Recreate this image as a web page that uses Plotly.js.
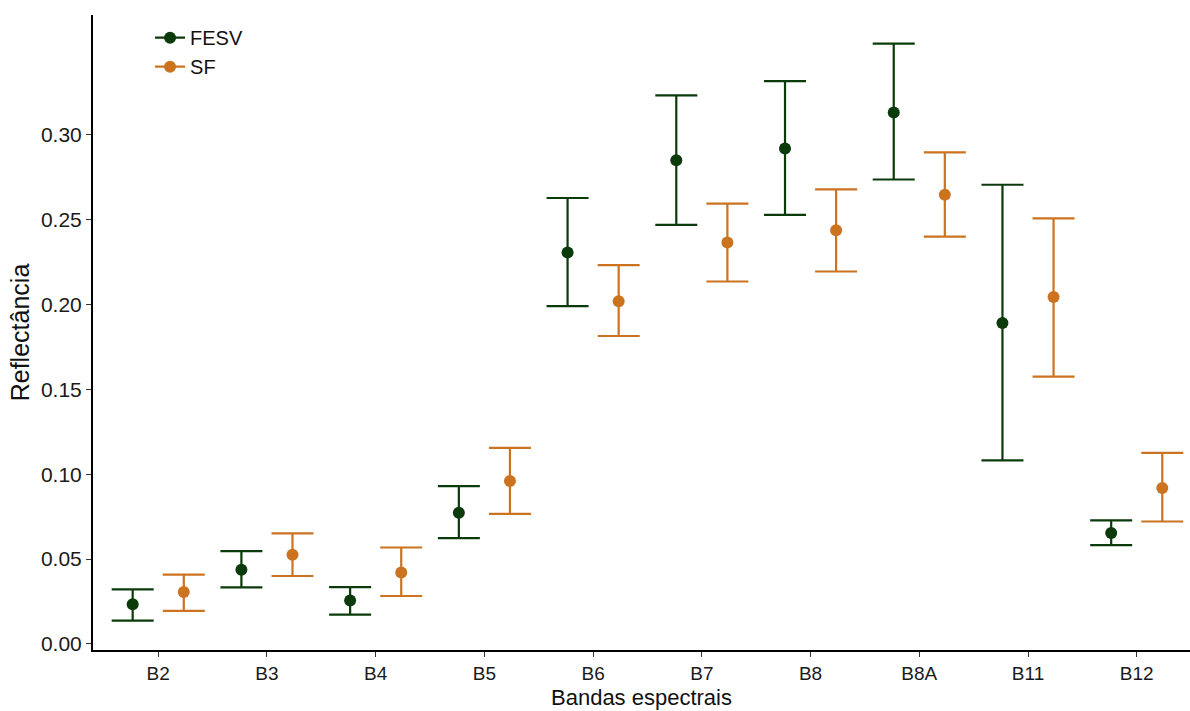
<!DOCTYPE html>
<html>
<head>
<meta charset="utf-8">
<script src="https://cdn.plot.ly/plotly-3.0.1.min.js"></script>
<style>html,body{margin:0;padding:0;background:#fff;}#chart{width:1190px;height:711px;}</style>
</head>
<body>
<div id="chart"></div>
<script>
// Data
const bands = ["B2","B3","B4","B5","B6","B7","B8","B8A","B11","B12"];

const fesvMean  = [0.0233,0.0437,0.0255,0.0772,0.2306,0.2849,0.2919,0.3131,0.1890,0.0653];
const fesvUpper = [0.0321,0.0547,0.0335,0.0929,0.2627,0.3231,0.3315,0.3536,0.2705,0.0728];
const fesvLower = [0.0137,0.0333,0.0172,0.0623,0.1990,0.2468,0.2527,0.2736,0.1081,0.0582];

const sfMean  = [0.0306,0.0525,0.0421,0.0959,0.2019,0.2365,0.2437,0.2646,0.2044,0.0919];
const sfUpper = [0.0408,0.0651,0.0568,0.1155,0.2231,0.2594,0.2678,0.2896,0.2507,0.1125];
const sfLower = [0.0194,0.0400,0.0282,0.0766,0.1814,0.2135,0.2194,0.2399,0.1575,0.0721];

const yTicks = [0.00,0.05,0.10,0.15,0.20,0.25,0.30];

const colFESV = "#0b3a0b";
const colSF = "#cc7320";
const dodge = 0.235; // half of position_dodge width, in category units

const idx = bands.map((b,i)=>i);
function diff(a,b){return a.map((v,i)=>v-b[i]);}

function series(name, mean, upper, lower, color, shift){
  return {
    type:"scatter", mode:"markers", name:name, x:idx.map(i=>i+shift), y:mean,
    showlegend:false,
    marker:{color:color, size:12},
    error_y:{type:"data", symmetric:false, array:diff(upper,mean), arrayminus:diff(mean,lower),
             color:color, thickness:2.2, width:21}
  };
}
function legendItem(name,color){
  return {type:"scatter", mode:"lines+markers", name:name, x:[null], y:[null],
          marker:{color:color,size:12}, line:{color:color,width:2.2}, showlegend:true};
}

const traces = [
  series("FESV", fesvMean, fesvUpper, fesvLower, colFESV, -dodge),
  series("SF", sfMean, sfUpper, sfLower, colSF, dodge),
  legendItem("FESV", colFESV),
  legendItem("SF", colSF)
];

const layout = {
  width:1190, height:711,
  margin:{l:93, r:0, t:15, b:61},
  paper_bgcolor:"#fff", plot_bgcolor:"#fff",
  font:{family:"Liberation Sans, Arial, sans-serif", color:"#1a1a1a"},
  showlegend:true,
  legend:{x:0.052, y:0.995, xanchor:"left", yanchor:"top", bgcolor:"rgba(0,0,0,0)",
          font:{size:20, color:"#111"}, tracegroupgap:0, itemwidth:30},
  xaxis:{
    range:[-0.6, 9.49], showline:true, linecolor:"#000", linewidth:2,
    tickvals:idx, ticktext:bands,
    ticks:"outside", ticklen:5, tickcolor:"#333", tickwidth:1,
    showgrid:false, zeroline:false, automargin:false,
    tickfont:{size:19, color:"#1a1a1a"}
  },
  yaxis:{
    range:[-0.0036, 0.3705], showline:true, linecolor:"#000", linewidth:2,
    ticks:"outside", ticklen:5, tickcolor:"#333", tickwidth:1,
    tickvals:yTicks, tickformat:".2f",
    showgrid:false, zeroline:false,
    tickfont:{size:21, color:"#1a1a1a"},
    title:{text:"Reflectância", font:{size:25, color:"#111"}, standoff:4}
  },
  annotations:[{
    text:"Bandas espectrais", xref:"paper", yref:"paper", x:0.5, y:-0.096,
    xanchor:"center", yanchor:"bottom", showarrow:false, borderpad:0,
    font:{size:22, color:"#111"}
  }]
};

Plotly.newPlot("chart", traces, layout, {displayModeBar:false, staticPlot:true});
</script>
</body>
</html>
